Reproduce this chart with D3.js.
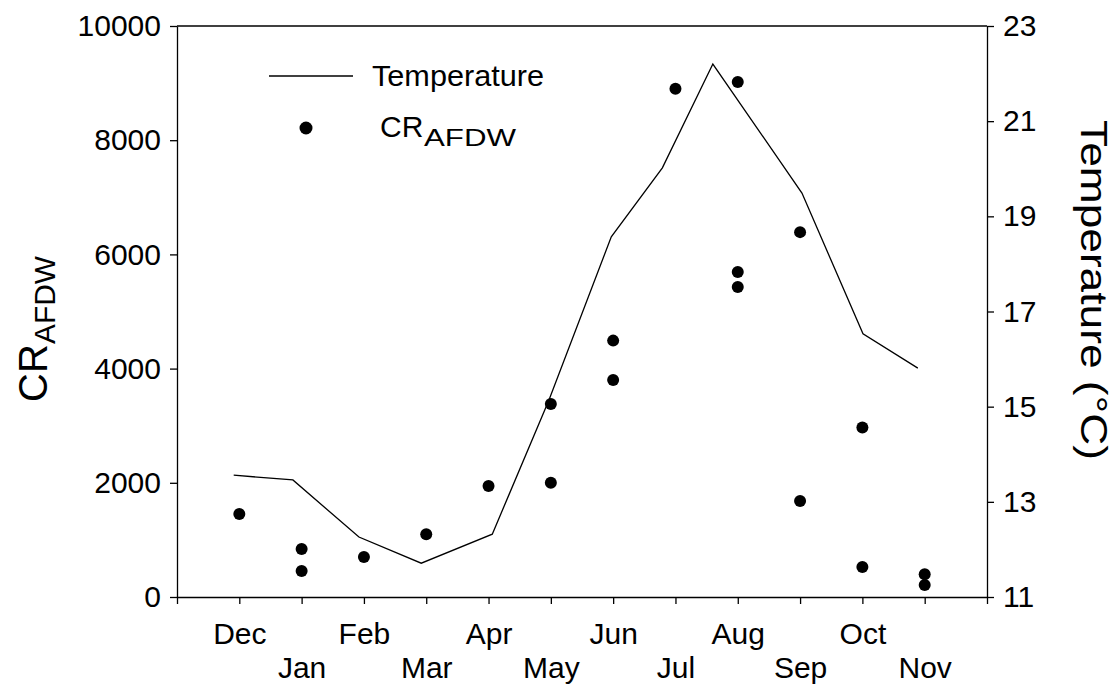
<!DOCTYPE html>
<html>
<head>
<meta charset="utf-8">
<script src="https://d3js.org/d3.v7.min.js"></script>
<style>
  body { margin: 0; background: #fff; }
  svg text { font-family: "Liberation Sans", Arial, sans-serif; fill: #000; }
  .axis path, .axis line { stroke: #000; stroke-width: 1.3; }
  .axis text { font-size: 30px; }
</style>
</head>
<body>
<div id="chart"></div>
<script>
// months on the x axis (Dec = 0 ... Nov = 11)
var months = ["Dec", "Jan", "Feb", "Mar", "Apr", "May", "Jun", "Jul", "Aug", "Sep", "Oct", "Nov"];

// temperature line, sampled at fractional month positions
var tempMonth = [-0.09, 0.86, 1.92, 2.92, 4.06, 4.97, 5.97, 6.79, 7.6, 9.03, 10.01, 10.89];
var tempC = [13.56, 13.46, 12.26, 11.71, 12.32, 15.14, 18.57, 20.02, 22.2, 19.49, 16.53, 15.81];

// CR_AFDW points
var crMonth = [0, 1, 1, 2, 3, 4, 5, 5, 6, 6, 7, 8, 8, 8, 9, 9, 10, 10, 11, 11];
var crValue = [1454, 840, 455, 700, 1100, 1944, 2000, 3380, 3800, 4490, 8900, 9020, 5690, 5430, 6390, 1680, 2970, 525, 400, 210];

var leftTicks = [0, 2000, 4000, 6000, 8000, 10000];
var rightTicks = [11, 13, 15, 17, 19, 21, 23];

var W = 1115, H = 684;
var margin = {top: 26, right: 128, bottom: 87, left: 177};
var width = W - margin.left - margin.right;
var height = H - margin.top - margin.bottom;

var svg = d3.select("#chart").append("svg")
  .attr("width", W)
  .attr("height", H);

var chart = svg.append("g")
  .attr("transform", "translate(" + margin.left + "," + margin.top + ")");

///////////////////////
// Scales
var x = d3.scaleLinear().domain([-1, 12]).range([0, width]);
var y = d3.scaleLinear().domain([0, 10000]).range([height, 0]);
var y2 = d3.scaleLinear().domain([11, 23]).range([height, 0]);

///////////////////////
// Axes
var xAxis = d3.axisBottom(x)
  .tickValues(d3.range(0, 12))
  .tickSize(7)
  .tickSizeOuter(7)
  .tickFormat(function(d) { return months[d]; });

var gx = chart.append("g")
  .attr("class", "axis")
  .attr("transform", "translate(0," + height + ")")
  .call(xAxis);
gx.selectAll(".tick text")
  .attr("dy", null)
  .attr("y", function(d) { return d % 2 == 0 ? 47 : 81; });

chart.append("g")
  .attr("class", "axis")
  .call(d3.axisLeft(y).tickValues(leftTicks).tickSize(7).tickSizeOuter(0).tickPadding(9)
    .tickFormat(d3.format("d")));

chart.append("g")
  .attr("class", "axis")
  .attr("transform", "translate(" + width + ",0)")
  .call(d3.axisRight(y2).tickValues(rightTicks).tickSize(7).tickSizeOuter(0).tickPadding(9));

// top frame
chart.append("line")
  .attr("x1", 0).attr("x2", width)
  .attr("y1", 0).attr("y2", 0)
  .style("stroke", "#000").style("stroke-width", 1.3);

///////////////////////
// Temperature line
var tempData = tempMonth.map(function(m, i) { return {m: m, t: tempC[i]}; });
var line = d3.line()
  .x(function(d) { return x(d.m); })
  .y(function(d) { return y2(d.t); });

chart.append("path")
  .datum(tempData)
  .attr("d", line)
  .style("fill", "none")
  .style("stroke", "#000")
  .style("stroke-width", 1.3);

// CR points
var crData = crMonth.map(function(m, i) { return {m: m, v: crValue[i]}; });
chart.selectAll(".cr-dot")
  .data(crData)
  .enter().append("circle")
  .attr("class", "cr-dot")
  .attr("cx", function(d) { return x(d.m); })
  .attr("cy", function(d) { return y(d.v); })
  .attr("r", 6)
  .style("fill", "#000");

///////////////////////
// Legend
var legend = chart.append("g").attr("transform", "translate(92,50)");
legend.append("line")
  .attr("x1", 0).attr("x2", 84)
  .attr("y1", 0).attr("y2", 0)
  .style("stroke", "#000").style("stroke-width", 1.3);
legend.append("text")
  .attr("x", 103).attr("y", 10)
  .attr("textLength", 172)
  .attr("lengthAdjust", "spacingAndGlyphs")
  .style("font-size", "30px")
  .text("Temperature");
legend.append("circle")
  .attr("cx", 37).attr("cy", 52)
  .attr("r", 6.5)
  .style("fill", "#000");
legend.append("text")
  .attr("x", 111).attr("y", 61)
  .style("font-size", "30px")
  .text("CR");
legend.append("text")
  .attr("x", 155).attr("y", 70)
  .attr("textLength", 92)
  .attr("lengthAdjust", "spacingAndGlyphs")
  .style("font-size", "23px")
  .text("AFDW");

///////////////////////
// Axis titles
var ltitle = svg.append("g")
  .attr("transform", "translate(47,330) rotate(-90)");
ltitle.append("text")
  .attr("x", -72).attr("y", 0)
  .style("font-size", "40px")
  .text("CR");
ltitle.append("text")
  .attr("x", -14).attr("y", 8)
  .attr("textLength", 88)
  .attr("lengthAdjust", "spacingAndGlyphs")
  .style("font-size", "29px")
  .text("AFDW");

svg.append("text")
  .attr("transform", "translate(1081,290) rotate(90)")
  .attr("text-anchor", "middle")
  .attr("textLength", 340)
  .attr("lengthAdjust", "spacingAndGlyphs")
  .style("font-size", "37px")
  .text("Temperature (\u00B0C)");
</script>
</body>
</html>
